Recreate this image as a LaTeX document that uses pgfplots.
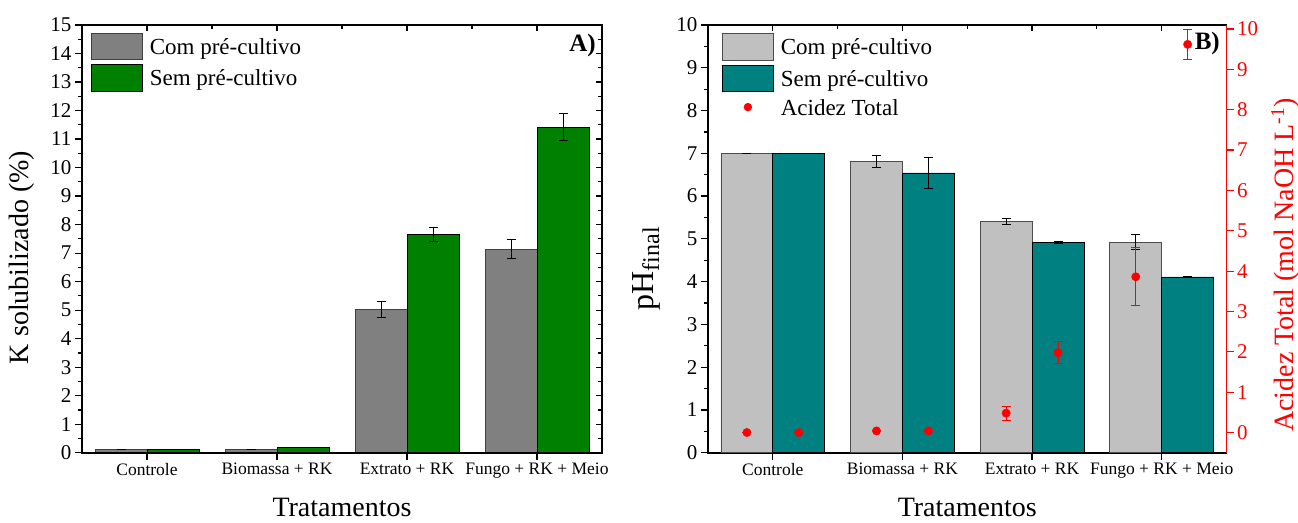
\documentclass[border=0pt]{standalone}
\usepackage{fontspec}
\setmainfont{Liberation Serif}
\usepackage{pgfplots}
\usepackage{pgfplotstable}
\pgfplotsset{compat=1.18}

\definecolor{grayA}{HTML}{808080}
\definecolor{greenA}{HTML}{008000}
\definecolor{grayB}{HTML}{C0C0C0}
\definecolor{tealB}{HTML}{008080}
\definecolor{redB}{HTML}{FF0000}

% Panel A: K solubilizado (%), bars at category -0.2 / +0.2
\pgfplotstableread{
x     y      e
-0.2  0.10   0
0.8   0.10   0
1.8   5.02   0.28
2.8   7.13   0.33
}\tabAcom
\pgfplotstableread{
x     y      e
0.2   0.10   0
1.2   0.18   0
2.2   7.65   0.26
3.2   11.42  0.48
}\tabAsem
% Panel B: final pH
\pgfplotstableread{
x     y      e
-0.2  7.00   0
0.8   6.80   0.14
1.8   5.40   0.07
2.8   4.92   0.18
}\tabBcom
\pgfplotstableread{
x     y      e
0.2   7.00   0
1.2   6.54   0.36
2.2   4.92   0.02
3.2   4.11   0.02
}\tabBsem
% Panel B: total acidity (right axis)
\pgfplotstableread{
x     y      e
-0.2  0.00   0
0.2   0.00   0
0.8   0.04   0
1.2   0.04   0
1.8   0.48   0.17
2.2   1.98   0.28
2.8   3.86   0.72
3.2   9.62   0.38
}\tabBacid

\pgfplotsset{
  panel/.style={
    scale only axis, height=427.7pt,
    xmin=-0.5, xmax=3.5,
    axis line style={line width=1.6pt},
    tick style={line width=1.2pt, black},
    major tick length=7pt, minor tick length=4pt,
    tick align=outside,
    /pgf/number format/assume math mode=true,
    yticklabel style={font=\fontsize{21}{21}\selectfont},
    xticklabel style={font=\fontsize{17.5}{18}\selectfont},
    xtick={0,1,2,3},
    xticklabels={Controle, Biomassa + RK, Extrato + RK, Fungo + RK + Meio},
    xtick pos=bottom, ytick pos=left,
    minor x tick num=0,
    label style={font=\fontsize{28}{30}\selectfont},
    xlabel={Tratamentos},
    xlabel style={at={(axis description cs:0.5,0)}, anchor=base, yshift=-64pt},
    legend cell align=left,
    legend style={draw=none, fill=none, at={(0,1)}, anchor=north west,
      inner sep=0pt, outer sep=0pt, row sep=4pt, column sep=7pt,
      font=\fontsize{23}{25}\selectfont,
      nodes={inner sep=0pt, anchor=base west}},
    legend image code/.code={\draw[#1, line width=0.8pt] (0pt,-5.3pt) rectangle (51pt,21.3pt);},
  },
  frame/.style={
    scale only axis, height=427.7pt,
    xmin=-0.5, xmax=3.5,
    axis line style={line width=1.6pt},
    tick style={line width=1.2pt, black},
    major tick length=6pt, minor tick length=4pt,
    tick align=inside,
    xticklabels={}, yticklabels={},
  },
  barerr/.style={
    error bars/.cd, y dir=both, y explicit,
    error bar style={line width=1pt, black},
    error mark options={rotate=90, mark size=4.5pt, line width=1pt, black},
  },
}

\begin{document}
\begin{tikzpicture}
\path[use as bounding box] (0pt,0pt) rectangle (1298pt,522pt);

% ---------------- Panel A ----------------
\begin{axis}[panel, width=520pt, at={(82pt,69.3pt)}, anchor=south west,
  ymin=0, ymax=15, ytick={0,1,...,15}, minor y tick num=1,
  ylabel={K solubilizado (\%)},
  ylabel style={at={(axis description cs:-0.102,0.4564)}, anchor=base},
  legend style={xshift=9pt, yshift=-7.7pt},
]
\addplot[ybar, bar width=0.4, bar shift=0pt, fill=grayA, draw=black!75, line width=0.8pt, barerr]
  table[x=x, y=y, y error=e] {\tabAcom};
\addlegendentry{Com pré-cultivo}
\addplot[ybar, bar width=0.4, bar shift=0pt, fill=greenA, draw=black, line width=0.8pt, barerr]
  table[x=x, y=y, y error=e] {\tabAsem};
\addlegendentry{Sem pré-cultivo}
\node[anchor=north east, inner sep=0pt, font=\fontsize{25}{25}\selectfont\bfseries]
  at (rel axis cs:1,1) [xshift=-6pt, yshift=-9pt] {A)};
\end{axis}
\begin{axis}[frame, width=520pt, at={(82pt,69.3pt)}, anchor=south west,
  ymin=0, ymax=15, ytick={0,1,...,15}, minor y tick num=1,
  xtick={0,1,2,3}, minor xtick={0.5,1.5,2.5},
  xtick pos=right, ytick pos=right]
\end{axis}

% ---------------- Panel B ----------------
\begin{axis}[panel, width=518.5pt, at={(708pt,69.3pt)}, anchor=south west,
  ymin=0, ymax=10, ytick={0,1,...,10}, minor y tick num=1,
  ylabel={\fontsize{32}{32}\selectfont pH\raisebox{-6pt}{\fontsize{24}{24}\selectfont final}},
  ylabel style={at={(axis description cs:-0.106,0.43)}, anchor=base},
]
\addplot[ybar, bar width=0.4, bar shift=0pt, fill=grayB, draw=black!70, line width=0.8pt, barerr]
  table[x=x, y=y, y error=e] {\tabBcom};
\addplot[ybar, bar width=0.4, bar shift=0pt, fill=tealB, draw=black, line width=0.8pt, barerr]
  table[x=x, y=y, y error=e] {\tabBsem};
\end{axis}
\begin{axis}[frame, width=518.5pt, at={(708pt,69.3pt)}, anchor=south west,
  ymin=0, ymax=10, axis y line=none, axis x line*=top,
  xtick={0,1,2,3}, minor xtick={0.5,1.5,2.5}]
\end{axis}
\begin{axis}[panel, width=518.5pt, at={(708pt,69.3pt)}, anchor=south west,
  ymin=-0.5, ymax=10.1, ytick={0,1,...,10}, minor y tick num=0,
  axis x line=none, axis y line*=right, xlabel={}, xtick=\empty,
  ytick pos=right,
  y axis line style={redB, line width=1.6pt},
  ytick style={redB, line width=1.2pt},
  yticklabel style={text=redB},
  ylabel={Acidez Total (mol NaOH L\textsuperscript{-1})},
  ylabel style={text=redB, at={(axis description cs:1.1283,0.4389)}, anchor=base},
  legend style={xshift=14pt, yshift=-8.3pt},
]
\addlegendimage{fill=grayB, draw=black!70}
\addlegendentry{Com pré-cultivo}
\addlegendimage{fill=tealB, draw=black}
\addlegendentry{Sem pré-cultivo}
\addplot[only marks, mark=*, mark size=4.2pt, color=redB,
  legend image code/.code={\fill[redB, draw=none] (25.5pt,8pt) circle (4.2pt); \path[draw=none, fill=none] (0pt,-5.3pt) rectangle (51pt,19pt);},
  error bars/.cd, y dir=both, y explicit,
  error bar style={line width=1pt, redB},
  error mark options={rotate=90, mark size=4.5pt, line width=1pt, redB}]
  table[x=x, y=y, y error=e] {\tabBacid};
\addlegendentry{Acidez Total}
\node[anchor=north east, inner sep=0pt, font=\fontsize{25}{25}\selectfont\bfseries]
  at (rel axis cs:1,1) [xshift=-6.5pt, yshift=-6.7pt] {B)};
\end{axis}
\end{tikzpicture}
\end{document}
